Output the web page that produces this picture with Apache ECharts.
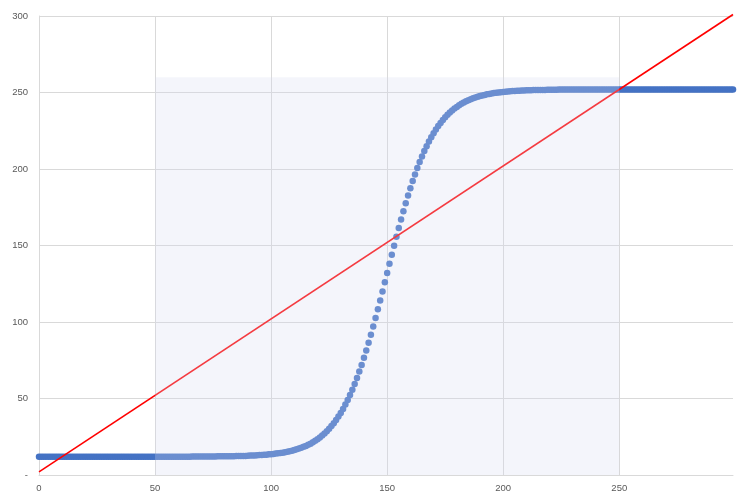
<!DOCTYPE html>
<html>
<head>
<meta charset="utf-8">
<script src="https://cdn.jsdelivr.net/npm/echarts@6/dist/echarts.min.js"></script>
<style>html,body{margin:0;padding:0;background:#fff;}#c{width:743px;height:502px;}</style>
</head>
<body>
<div id="c"></div>
<script>
// x values 0..299 (one point per unit)
const xStart = 0;
// S-curve values, x = 0..299
const curveValues = [
12.0,12.0,12.0,12.0,12.0,12.0,12.0,12.0,12.0,12.0,
12.0,12.0,12.0,12.0,12.0,12.0,12.0,12.0,12.0,12.0,
12.0,12.0,12.0,12.0,12.0,12.0,12.0,12.0,12.0,12.0,
12.0,12.0,12.0,12.0,12.0,12.0,12.0,12.0,12.0,12.0,
12.0,12.0,12.0,12.0,12.0,12.0,12.0,12.0,12.0,12.0,
12.0,12.0,12.0,12.0,12.0,12.0,12.0,12.0,12.0,12.0,
12.0,12.0,12.0,12.0,12.0,12.0,12.1,12.1,12.1,12.1,
12.1,12.1,12.1,12.1,12.1,12.1,12.1,12.2,12.2,12.2,
12.2,12.2,12.3,12.3,12.3,12.4,12.4,12.4,12.5,12.5,
12.6,12.7,12.7,12.8,12.9,13.0,13.1,13.2,13.3,13.5,
13.6,13.8,14.0,14.2,14.4,14.6,14.9,15.2,15.6,15.9,
16.3,16.8,17.3,17.8,18.4,19.0,19.8,20.5,21.4,22.4,
23.4,24.5,25.8,27.1,28.6,30.2,32.0,33.9,35.9,38.2,
40.6,43.2,46.0,49.1,52.3,55.8,59.5,63.4,67.6,71.9,
76.6,81.4,86.4,91.6,97.0,102.6,108.3,114.1,120.0,126.0,
132.0,138.0,144.0,149.9,155.7,161.4,167.0,172.4,177.6,182.6,
187.4,192.1,196.4,200.6,204.5,208.2,211.7,214.9,218.0,220.8,
223.4,225.8,228.1,230.1,232.0,233.8,235.4,236.9,238.2,239.5,
240.6,241.6,242.6,243.5,244.2,245.0,245.6,246.2,246.7,247.2,
247.7,248.1,248.4,248.8,249.1,249.4,249.6,249.8,250.0,250.2,
250.4,250.5,250.7,250.8,250.9,251.0,251.1,251.2,251.3,251.3,
251.4,251.5,251.5,251.6,251.6,251.6,251.7,251.7,251.7,251.8,
251.8,251.8,251.8,251.8,251.9,251.9,251.9,251.9,251.9,251.9,
251.9,251.9,251.9,251.9,251.9,252.0,252.0,252.0,252.0,252.0,
252.0,252.0,252.0,252.0,252.0,252.0,252.0,252.0,252.0,252.0,
252.0,252.0,252.0,252.0,252.0,252.0,252.0,252.0,252.0,252.0,
252.0,252.0,252.0,252.0,252.0,252.0,252.0,252.0,252.0,252.0,
252.0,252.0,252.0,252.0,252.0,252.0,252.0,252.0,252.0,252.0,
252.0,252.0,252.0,252.0,252.0,252.0,252.0,252.0,252.0,252.0,
252.0,252.0,252.0,252.0,252.0,252.0,252.0,252.0,252.0,252.0
];
// straight red reference line end points [x, y]
const lineX = [0, 299];
const lineY = [2, 301];
// shaded band
const bandX = [50, 250];
const bandY = [0, 260];
// tick values
const xTicks = [0, 50, 100, 150, 200, 250];
const yTicks = [0, 50, 100, 150, 200, 250, 300];
const xMax = 299;

const scatterData = curveValues.map((v, i) => [xStart + i, v]);
const lineData = lineX.map((x, i) => [x, lineY[i]]);
const gridColor = '#D9D9D9';
const textStyle = {color: '#595959', fontSize: 9.5, fontFamily: 'Liberation Sans, Arial, sans-serif'};

const chart = echarts.init(document.getElementById('c'), null, {renderer: 'canvas'});
chart.setOption({
  animation: false,
  backgroundColor: '#ffffff',
  grid: {left: 39, right: 10, top: 16, bottom: 27, outerBoundsMode: 'none', containLabel: false},
  xAxis: {
    type: 'value', min: xTicks[0], max: xMax, interval: 50,
    axisLine: {show: true, lineStyle: {color: gridColor, width: 1}},
    axisTick: {show: false},
    splitLine: {show: false},
    axisLabel: Object.assign({margin: 8, showMaxLabel: false}, textStyle)
  },
  yAxis: {
    type: 'value', min: yTicks[0], max: yTicks[yTicks.length - 1], interval: 50,
    axisLine: {show: true, lineStyle: {color: gridColor, width: 1}},
    axisTick: {show: false},
    splitLine: {show: true, lineStyle: {color: gridColor, width: 1}},
    axisLabel: Object.assign({margin: 11, formatter: v => v === 0 ? '-' : String(v)}, textStyle)
  },
  series: [
    {
      type: 'line', data: [], z: 1, silent: true,
      markLine: {
        silent: true, symbol: 'none', label: {show: false}, z: 1,
        lineStyle: {color: gridColor, width: 1, type: 'solid'},
        data: xTicks.filter(v => v > 0).map(v => ({xAxis: v}))
      }
    },
    {
      type: 'scatter', data: scatterData, z: 2,
      symbol: 'circle', symbolSize: 6.5,
      itemStyle: {color: '#4472C4', opacity: 1}
    },
    {
      type: 'line', data: lineData, z: 3, clip: false,
      showSymbol: false, symbol: 'none',
      lineStyle: {color: '#FF0000', width: 1.6}
    },
    {
      type: 'scatter', data: [], z: 10, silent: true,
      markArea: {
        silent: true, z: 10,
        itemStyle: {color: 'rgba(213,218,240,0.27)', borderWidth: 0},
        data: [[{xAxis: bandX[0], yAxis: bandY[0]}, {xAxis: bandX[1], yAxis: bandY[1]}]]
      }
    }
  ]
});
</script>
</body>
</html>
